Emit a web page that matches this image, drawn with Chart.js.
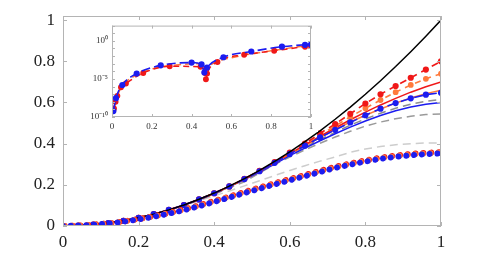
<!DOCTYPE html>
<html>
<head>
<meta charset="utf-8">
<script src="https://cdn.jsdelivr.net/npm/chart.js@4/dist/chart.umd.min.js"></script>
<style>
  body { margin: 0; background: #fff; }
  #wrap { position: relative; width: 488px; height: 254px; }
  #principal { position: absolute; left: 0; top: 0; }
  #detalhe { position: absolute; left: 80px; top: 20px; background: #fff; }
</style>
</head>
<body>
<div id="wrap">
  <canvas id="principal" width="488" height="254"></canvas>
  <canvas id="detalhe" width="238" height="112"></canvas>
</div>
<script>
// eixo x do grafico principal
const xs = [0, 0.04, 0.08, 0.12, 0.16, 0.2, 0.24, 0.28, 0.32, 0.36, 0.4, 0.44, 0.48,
  0.52, 0.56, 0.6, 0.64, 0.68, 0.72, 0.76, 0.8, 0.84, 0.88, 0.92, 0.96, 1];

const preto = [0, 0.0016, 0.0064, 0.0144, 0.0256, 0.04, 0.0576, 0.0784, 0.1024, 0.1296, 0.16, 0.1936, 0.2304,
  0.2704, 0.3136, 0.36, 0.4096, 0.4624, 0.5184, 0.5776, 0.64, 0.7056, 0.7744, 0.8464, 0.9216, 1];
const vermelhoTracejado = [0, 0.0016, 0.0064, 0.0144, 0.0256, 0.04, 0.0576, 0.078, 0.102, 0.129, 0.159, 0.192, 0.229,
  0.268, 0.31, 0.356, 0.40, 0.45, 0.495, 0.545, 0.595, 0.64, 0.68, 0.72, 0.76, 0.80];
const laranjaTracejado = [0, 0.0016, 0.0064, 0.0144, 0.0256, 0.04, 0.0576, 0.078, 0.102, 0.129, 0.159, 0.192, 0.229,
  0.268, 0.31, 0.354, 0.398, 0.442, 0.486, 0.53, 0.572, 0.612, 0.65, 0.685, 0.715, 0.74];
const vermelhoSolido = [0, 0.0016, 0.0064, 0.0144, 0.0256, 0.04, 0.0576, 0.078, 0.102, 0.129, 0.159, 0.192, 0.228,
  0.267, 0.308, 0.352, 0.394, 0.436, 0.476, 0.516, 0.553, 0.588, 0.62, 0.65, 0.676, 0.70];
const laranjaSolido = [0, 0.0016, 0.0064, 0.0144, 0.0256, 0.04, 0.0576, 0.078, 0.102, 0.129, 0.159, 0.192, 0.228,
  0.266, 0.307, 0.35, 0.39, 0.43, 0.468, 0.505, 0.538, 0.568, 0.597, 0.622, 0.643, 0.66];
const azulTracejado = [0, 0.0016, 0.0064, 0.0144, 0.0256, 0.04, 0.0576, 0.078, 0.102, 0.129, 0.159, 0.192, 0.228,
  0.266, 0.307, 0.35, 0.39, 0.43, 0.467, 0.503, 0.538, 0.57, 0.597, 0.62, 0.638, 0.647];
const cinzaEscuro = [0, 0.0016, 0.0064, 0.0144, 0.0256, 0.04, 0.0576, 0.078, 0.101, 0.128, 0.157, 0.19, 0.226,
  0.264, 0.304, 0.345, 0.383, 0.42, 0.455, 0.49, 0.52, 0.548, 0.572, 0.592, 0.606, 0.615];
const azulSolido = [0, 0.0016, 0.0064, 0.0144, 0.0256, 0.04, 0.0576, 0.078, 0.101, 0.128, 0.157, 0.19, 0.225,
  0.262, 0.301, 0.342, 0.378, 0.414, 0.448, 0.48, 0.51, 0.537, 0.56, 0.578, 0.591, 0.60];
const cinzaMedio = [0, 0.0016, 0.0064, 0.0144, 0.0255, 0.04, 0.057, 0.077, 0.1, 0.126, 0.154, 0.185, 0.215,
  0.258, 0.298, 0.335, 0.37, 0.402, 0.432, 0.46, 0.485, 0.505, 0.521, 0.533, 0.541, 0.544];
const cinzaClaro = [0, 0.0016, 0.0064, 0.0144, 0.0255, 0.04, 0.057, 0.077, 0.099, 0.122, 0.146, 0.17, 0.195,
  0.22, 0.245, 0.27, 0.293, 0.315, 0.335, 0.358, 0.374, 0.386, 0.395, 0.40, 0.403, 0.404];
const pontosAzul = [0, 0.0015, 0.006, 0.012, 0.021, 0.032, 0.045, 0.06, 0.077, 0.096, 0.117, 0.138, 0.16,
  0.181, 0.202, 0.222, 0.242, 0.262, 0.282, 0.298, 0.313, 0.326, 0.336, 0.344, 0.349, 0.353];
const pontosLaranja = [0, 0.0018, 0.0064, 0.0125, 0.0215, 0.033, 0.046, 0.062, 0.079, 0.098, 0.12, 0.141, 0.163,
  0.184, 0.205, 0.225, 0.245, 0.265, 0.285, 0.301, 0.316, 0.329, 0.339, 0.347, 0.352, 0.356];
const pontosVermelho = [0, 0.002, 0.0068, 0.013, 0.022, 0.034, 0.047, 0.063, 0.081, 0.1, 0.122, 0.143, 0.166,
  0.187, 0.208, 0.228, 0.248, 0.268, 0.288, 0.304, 0.319, 0.332, 0.342, 0.35, 0.355, 0.359];

const ticksPrincipal = [0, 0.2, 0.4, 0.6, 0.8, 1];

// grafico pequeno (escala log)
const xsAzulDet = [0.007, 0.02, 0.052, 0.124, 0.245, 0.40, 0.45, 0.464, 0.477, 0.56, 0.70, 0.854, 0.97, 1];
const azulDet = [6e-10, 3e-8, 1.6e-6, 5e-5, 6e-4, 1.4e-3, 8e-4, 7e-5, 3e-4, 7e-3, 4e-2, 0.17, 0.3, 0.32];
const xsVermelhoDet = [0.01, 0.018, 0.027, 0.045, 0.07, 0.157, 0.29, 0.445, 0.47, 0.472, 0.478, 0.53, 0.664, 0.815, 0.97, 1];
const vermelhoDet = [1.3e-9, 1e-8, 6e-8, 8e-7, 2.5e-6, 6e-5, 4.7e-4, 4e-4, 5.4e-5, 9e-6, 5e-5, 1.7e-3, 1.5e-2, 5e-2, 0.17, 0.2];
const xsLaranjaDet = [0.015, 0.04, 0.1, 0.2, 0.35, 0.44, 0.47, 0.5, 0.6, 0.75, 0.9, 1];
const laranjaDet = [5e-9, 4e-7, 1.5e-5, 2e-4, 8e-4, 1e-3, 1e-4, 8e-4, 6e-3, 3e-2, 0.12, 0.3];
const expoentesDet = [-10, -9, -8, -7, -6, -5, -4, -3, -2, -1, 0, 1, 2];
const superscritos = { "0": "⁰", "5": "⁵", "1": "¹", "-": "⁻" };

const fonteSerif = "'Liberation Serif', 'Times New Roman', serif";
const pares = (xv, yv) => xv.map((x, i) => ({ x: x, y: yv[i] }));

// tamanho fixo dos eixos, sem folga extra dos rotulos
const fixaX = h => s => { s.height = h; s.paddingLeft = 0; s.paddingRight = 0; };
const fixaY = w => s => { s.width = w; s.paddingTop = 0; s.paddingBottom = 0; };

// moldura cinza com marcas para dentro nos 4 lados
const moldura = {
  id: "moldura",
  afterDraw(chart, args, opts) {
    const { ctx, chartArea: a, scales } = chart;
    const len = opts.len;
    ctx.save();
    ctx.strokeStyle = "#b4b4b4";
    ctx.lineWidth = 1;
    ctx.strokeRect(a.left + 0.5, a.top + 0.5, a.right - a.left - 1, a.bottom - a.top - 1);
    ctx.beginPath();
    scales.x.ticks.forEach(t => {
      const p = Math.round(scales.x.getPixelForValue(t.value)) + 0.5;
      ctx.moveTo(p, a.bottom); ctx.lineTo(p, a.bottom - len);
      ctx.moveTo(p, a.top); ctx.lineTo(p, a.top + len);
    });
    scales.y.ticks.forEach(t => {
      const p = Math.round(scales.y.getPixelForValue(t.value)) + 0.5;
      ctx.moveTo(a.left, p); ctx.lineTo(a.left + len, p);
      ctx.moveTo(a.right, p); ctx.lineTo(a.right - len, p);
    });
    ctx.stroke();
    ctx.restore();
  }
};

function linha(dados, cor, extra) {
  return Object.assign({
    data: pares(xs, dados),
    showLine: true,
    borderColor: cor,
    backgroundColor: cor,
    borderWidth: 1.5,
    pointRadius: 0,
    fill: false,
  }, extra || {});
}

const bolinhas = (dados, cor, offset) => linha(dados, cor, {
  borderWidth: 6, borderDash: [0.01, 7.8], borderCapStyle: "round", borderDashOffset: offset
});

new Chart(document.getElementById("principal"), {
  type: "scatter",
  data: {
    datasets: [
      bolinhas(pontosAzul, "#1c1cf0", 0),
      bolinhas(pontosLaranja, "#ff7a3c", -1),
      bolinhas(pontosVermelho, "#f01818", -1.8),
      linha(preto, "#000000"),
      linha(azulTracejado, "#1c1cf0", { borderDash: [9, 5], pointRadius: 2.3, borderWidth: 1.6 }),
      linha(vermelhoTracejado, "#f01818", { borderDash: [7, 5], pointRadius: 2.3, borderWidth: 1.6 }),
      linha(laranjaTracejado, "#ff7a3c", { borderDash: [6, 5], pointRadius: 2.1, borderWidth: 1.6 }),
      linha(vermelhoSolido, "#f01818"),
      linha(laranjaSolido, "#ff7a3c"),
      linha(azulSolido, "#1c1cf0"),
      linha(cinzaEscuro, "#8c8c8c", { borderDash: [8, 5] }),
      linha(cinzaMedio, "#9a9a9a", { borderDash: [8, 5] }),
      linha(cinzaClaro, "#cdcdcd", { borderDash: [8, 5] }),
    ],
  },
  options: {
    responsive: false,
    animation: false,
    layout: { padding: { top: 16, right: 47, left: 0, bottom: 0 } },
    plugins: { legend: { display: false }, tooltip: { enabled: false }, moldura: { len: 4 } },
    scales: {
      x: {
        type: "linear", min: 0, max: 1,
        afterFit: fixaX(28),
        afterBuildTicks: s => { s.ticks = ticksPrincipal.map(v => ({ value: v })); },
        grid: { display: false, drawTicks: false },
        border: { display: false },
        ticks: { padding: 6, color: "#222", font: { family: fonteSerif, size: 17 }, callback: v => String(v) },
      },
      y: {
        type: "linear", min: 0, max: 1.02,
        afterFit: fixaY(63),
        afterBuildTicks: s => { s.ticks = ticksPrincipal.map(v => ({ value: v })); },
        grid: { display: false, drawTicks: false },
        border: { display: false },
        ticks: { padding: 8, color: "#222", font: { family: fonteSerif, size: 17 }, callback: v => String(v) },
      },
    },
  },
  plugins: [moldura],
});

new Chart(document.getElementById("detalhe"), {
  type: "scatter",
  data: {
    datasets: [
      { data: pares(xsAzulDet, azulDet), showLine: true, borderColor: "#1c1cf0", backgroundColor: "#1c1cf0",
        borderWidth: 1.6, borderDash: [9, 4], pointRadius: 2.3, cubicInterpolationMode: "monotone" },
      { data: pares(xsVermelhoDet, vermelhoDet), showLine: true, borderColor: "#f01818", backgroundColor: "#f01818",
        borderWidth: 1.5, borderDash: [6, 4], pointRadius: 2.2, cubicInterpolationMode: "monotone" },
      { data: pares(xsLaranjaDet, laranjaDet), showLine: true, borderColor: "#ff7a3c", backgroundColor: "#ff7a3c",
        borderWidth: 1.5, borderDash: [7, 4], pointRadius: 0, cubicInterpolationMode: "monotone" },
    ],
  },
  options: {
    responsive: false,
    animation: false,
    layout: { padding: { top: 4, right: 7, left: 0, bottom: 0 } },
    plugins: { legend: { display: false }, tooltip: { enabled: false }, moldura: { len: 3 } },
    scales: {
      x: {
        type: "linear", min: 0, max: 1,
        afterFit: fixaX(15),
        afterBuildTicks: s => { s.ticks = ticksPrincipal.map(v => ({ value: v })); },
        grid: { display: false, drawTicks: false },
        border: { display: false },
        ticks: { padding: 4, color: "#333", font: { family: fonteSerif, size: 9 }, callback: v => String(v) },
      },
      y: {
        type: "logarithmic", min: 1e-10, max: 100,
        afterFit: fixaY(32),
        afterBuildTicks: s => { s.ticks = expoentesDet.map(e => ({ value: Math.pow(10, e) })); },
        grid: { display: false, drawTicks: false },
        border: { display: false },
        ticks: {
          padding: 4, autoSkip: false, color: "#333", font: { family: fonteSerif, size: 9 },
          callback: (v, i) => {
            const e = expoentesDet[i];
            if (e % 5 !== 0 || e > 0) return "";
            return "10" + String(e).split("").map(c => superscritos[c]).join("");
          },
        },
      },
    },
  },
  plugins: [moldura],
});
</script>
</body>
</html>
